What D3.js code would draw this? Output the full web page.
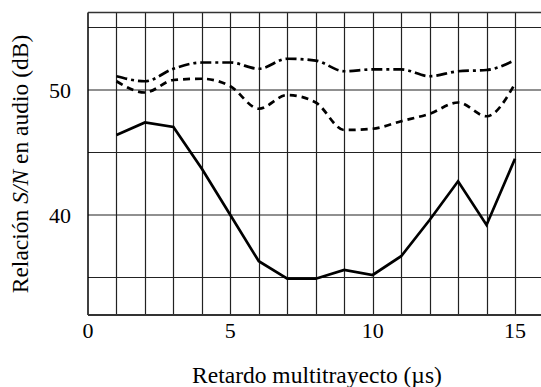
<!DOCTYPE html>
<html>
<head>
<meta charset="utf-8">
<script src="https://cdn.jsdelivr.net/npm/d3@7"></script>
</head>
<body style="margin:0; background:#fff; overflow:hidden">
<svg id="chart" width="541" height="387"></svg>
<script>
// Multipath delay (µs) and audio S/N (dB) for three conditions
const delays = [1, 2, 3, 4, 5, 6, 7, 8, 9, 10, 11, 12, 13, 14, 15];
const snrDashDot = [51.1, 50.7, 51.7, 52.2, 52.2, 51.7, 52.5, 52.35, 51.5, 51.65, 51.65, 51.1, 51.5, 51.6, 52.4];
const snrDashed  = [50.7, 49.8, 50.8, 50.9, 50.3, 48.5, 49.6, 49.0, 46.8, 46.9, 47.5, 48.1, 49.0, 47.9, 50.5];
const snrSolid   = [46.4, 47.4, 47.05, 43.7, 40.0, 36.3, 34.9, 34.9, 35.6, 35.2, 36.7, 39.6, 42.7, 39.2, 44.5];

const xTicks = [0, 5, 10, 15];
const yTicks = [40, 50];
const xGrid = d3.range(1, 16);
const yGrid = [35, 40, 45, 50, 55];

const serif = "'Liberation Serif'";

const svg = d3.select("#chart");
const plotLeft = 88, plotRight = 545, plotTop = 12.5, plotBottom = 315;

const x = d3.scaleLinear().domain([0, 15]).range([plotLeft, 515]);
const y = d3.scaleLinear().domain([40, 50]).range([215, 90]);

const g = svg.append("g");

// grid
g.selectAll("line.vg").data(xGrid).enter().append("line")
  .attr("x1", d => Math.round(x(d)) + 0.5).attr("x2", d => Math.round(x(d)) + 0.5)
  .attr("y1", plotTop).attr("y2", plotBottom)
  .attr("stroke", "#222").attr("stroke-width", 1.2);
g.selectAll("line.hg").data(yGrid).enter().append("line")
  .attr("x1", plotLeft).attr("x2", plotRight)
  .attr("y1", d => y(d)).attr("y2", d => y(d))
  .attr("stroke", "#222").attr("stroke-width", 1.2);

// frame: left, top, bottom
g.append("line").attr("x1", plotLeft).attr("x2", plotLeft).attr("y1", plotTop).attr("y2", plotBottom)
  .attr("stroke", "#000").attr("stroke-width", 1.5);
g.append("line").attr("x1", plotLeft).attr("x2", plotRight).attr("y1", plotTop).attr("y2", plotTop)
  .attr("stroke", "#333").attr("stroke-width", 1.5);
g.append("line").attr("x1", plotLeft).attr("x2", plotRight).attr("y1", plotBottom).attr("y2", plotBottom)
  .attr("stroke", "#333").attr("stroke-width", 1.8);

// series
const smooth = d3.line().x((d, i) => x(delays[i])).y(d => y(d)).curve(d3.curveMonotoneX);
const straight = d3.line().x((d, i) => x(delays[i])).y(d => y(d));

g.append("path").attr("d", smooth(snrDashDot))
  .attr("fill", "none").attr("stroke", "#000").attr("stroke-width", 2.7)
  .attr("stroke-dasharray", "11,4,3,4");
g.append("path").attr("d", smooth(snrDashed))
  .attr("fill", "none").attr("stroke", "#000").attr("stroke-width", 2.7)
  .attr("stroke-dasharray", "7,5");
g.append("path").attr("d", straight(snrSolid))
  .attr("fill", "none").attr("stroke", "#000").attr("stroke-width", 2.7)
  .attr("stroke-linejoin", "miter");

// tick labels
g.selectAll("text.xt").data(xTicks).enter().append("text")
  .attr("font-family", serif).attr("fill", "#000")
  .attr("x", d => x(d)).attr("y", 338)
  .attr("text-anchor", "middle").attr("font-size", 22)
  .text(d => d);
g.selectAll("text.yt").data(yTicks).enter().append("text")
  .attr("font-family", serif).attr("fill", "#000")
  .attr("x", 71).attr("y", d => y(d) + 7.5)
  .attr("text-anchor", "end").attr("font-size", 22)
  .text(d => d);

// axis titles
svg.append("text")
  .attr("font-family", serif).attr("fill", "#000")
  .attr("x", 317).attr("y", 383)
  .attr("text-anchor", "middle").attr("font-size", 23.5)
  .text("Retardo multitrayecto (µs)");

const yt = svg.append("text")
  .attr("font-family", serif).attr("fill", "#000")
  .attr("transform", "translate(28,164) rotate(-90)")
  .attr("text-anchor", "middle").attr("font-size", 23.5);
yt.append("tspan").text("Relación ");
yt.append("tspan").attr("font-style", "italic").text("S/N");
yt.append("tspan").text(" en audio (dB)");
</script>
</body>
</html>
